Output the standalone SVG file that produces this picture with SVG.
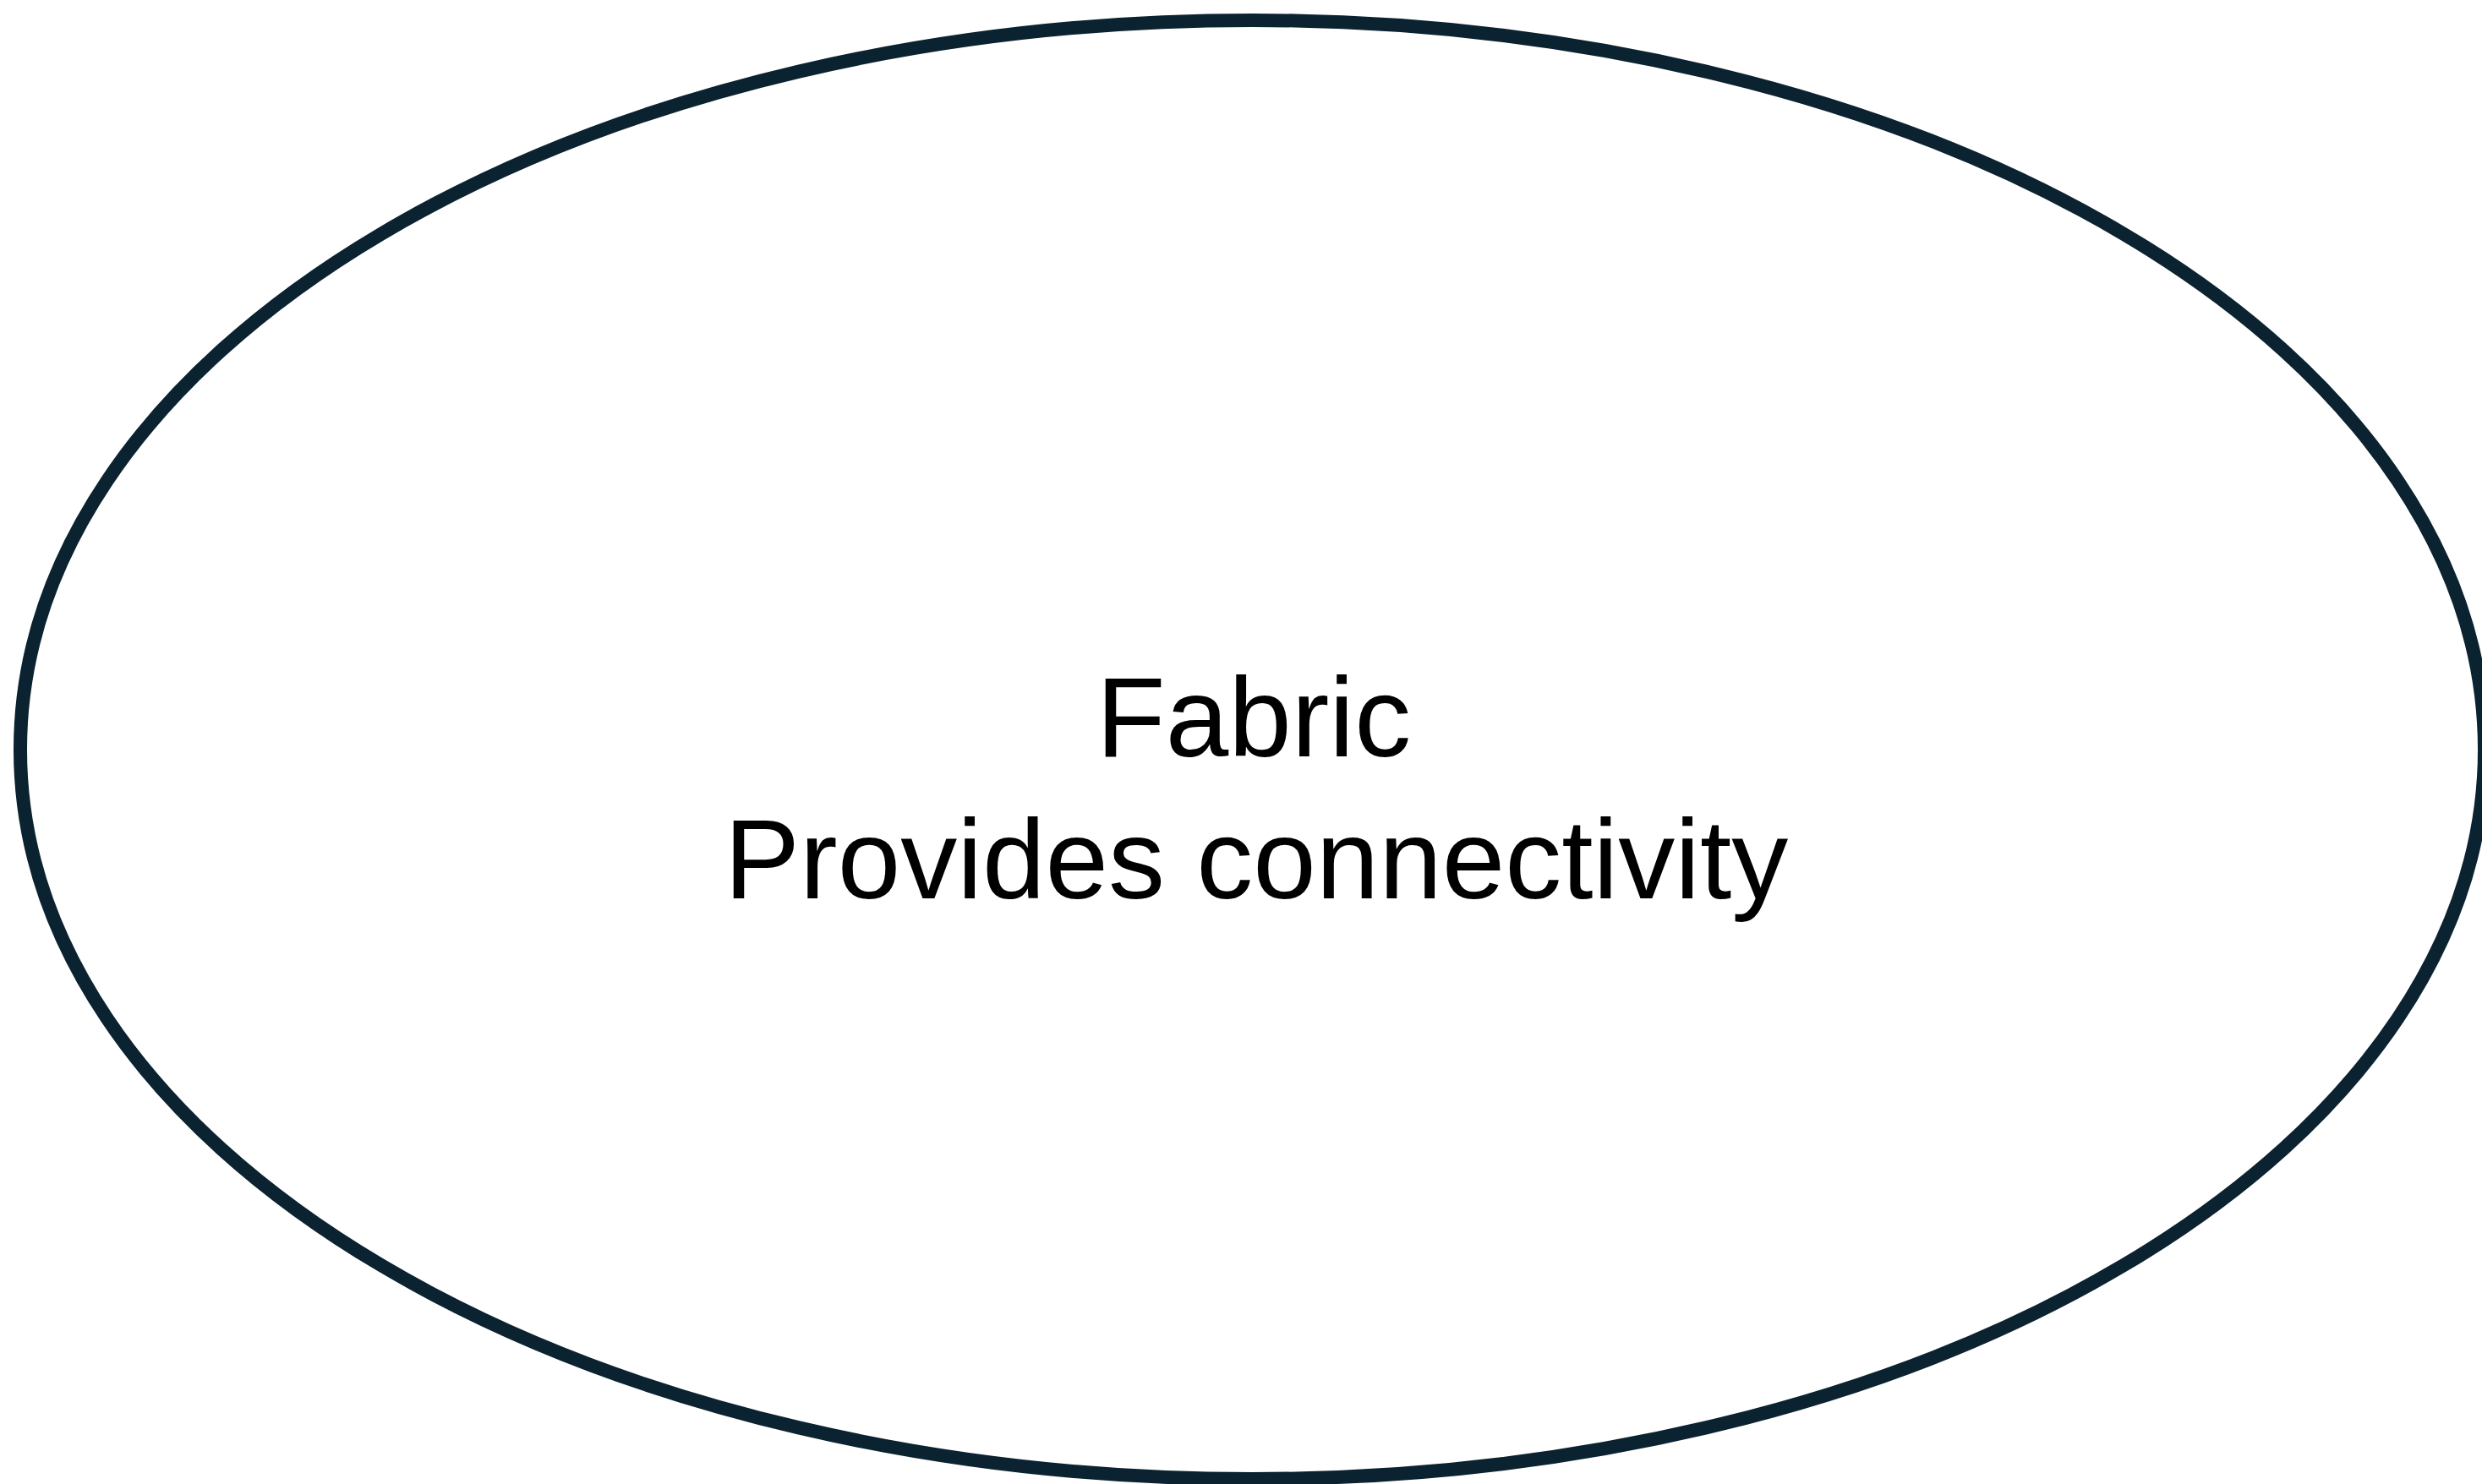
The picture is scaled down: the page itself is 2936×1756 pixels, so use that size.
<svg xmlns="http://www.w3.org/2000/svg" width="2936" height="1756" viewBox="0 0 2936 1756">
<style>
.node-shape{fill:#ffffff;stroke:#0b2230;stroke-width:16}
.label{font-family:"Liberation Sans",Arial,Helvetica,sans-serif;font-size:134px;fill:#000000;text-anchor:middle}
</style>
<rect width="2936" height="1756" fill="#ffffff"/>
<g id="connectors"></g>
<g id="fabric">
<ellipse class="node-shape" cx="1481.5" cy="887" rx="1457.5" ry="863"/>
<text class="label" x="1483" y="895">Fabric</text>
<text class="label" x="1486" y="1063">Provides connectivity</text>
</g>
</svg>
